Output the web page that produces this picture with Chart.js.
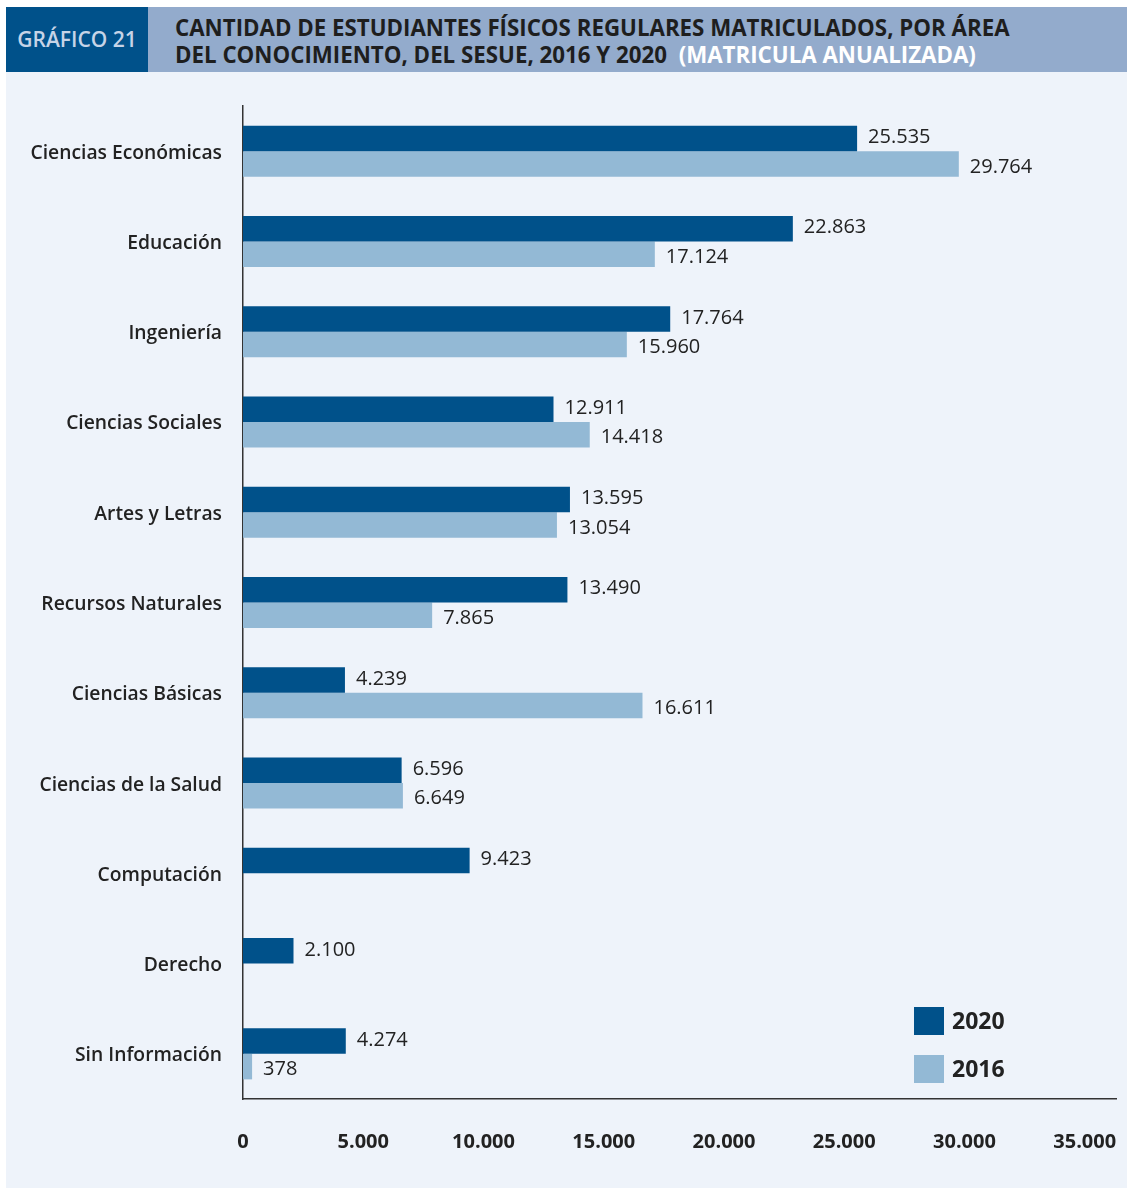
<!DOCTYPE html>
<html>
<head>
<meta charset="utf-8">
<script src="https://cdn.jsdelivr.net/npm/chart.js@4.4.1/dist/chart.umd.min.js"></script>
<style>
  body { margin: 0; background: #fff; font-family: "Open Sans", sans-serif; }
  #panel { position: absolute; left: 6px; top: 72px; width: 1121px; height: 1116px; background: #eef3fa; }
  #tag { position: absolute; left: 6px; top: 7px; width: 142px; height: 65px; background: #00518a;
         color: #c6d4e7; font-weight: 600; font-size: 21px; line-height: 65px; text-align: center; }
  #band { position: absolute; left: 148px; top: 7px; width: 979px; height: 65px; background: #93abcc; }
  #title { position: absolute; left: 27px; top: 6.5px; color: #1e1e1e; font-weight: 700; font-size: 22.3px;
           line-height: 27px; white-space: nowrap; }
  #title span { color: #fff; }
  #c { position: absolute; left: 0; top: 0; }
</style>
</head>
<body>
<div id="panel"></div>
<canvas id="c" width="1127" height="1188"></canvas>
<div id="tag">GRÁFICO 21</div>
<div id="band"><div id="title">CANTIDAD DE ESTUDIANTES FÍSICOS REGULARES MATRICULADOS, POR ÁREA<br>DEL CONOCIMIENTO, DEL SESUE, 2016 Y 2020&nbsp; <span>(MATRICULA ANUALIZADA)</span></div></div>
<script>
(function () {
    'use strict';

    var areas = ['Ciencias Económicas', 'Educación', 'Ingeniería', 'Ciencias Sociales', 'Artes y Letras',
        'Recursos Naturales', 'Ciencias Básicas', 'Ciencias de la Salud', 'Computación', 'Derecho', 'Sin Información'];
    var years = ['2020', '2016'];
    var values2020 = [25535, 22863, 17764, 12911, 13595, 13490, 4239, 6596, 9423, 2100, 4274];
    var values2016 = [29764, 17124, 15960, 14418, 13054, 7865, 16611, 6649, null, null, 378];
    var xTicks = [0, 5000, 10000, 15000, 20000, 25000, 30000, 35000];

    var darkBlue = '#00518a',
        lightBlue = '#93b9d5',
        textColor = '#222';

    function fmt(n) {
        return String(n).replace(/\B(?=(\d{3})+(?!\d))/g, '.');
    }

    // value labels at the end of each bar (2016 ones sit a bit lower, as in the print)
    var barLabels = {
        id: 'barLabels',
        afterDatasetsDraw: function (chart) {
            var ctx = chart.ctx;
            ctx.save();
            ctx.font = '400 20px "Open Sans"';
            ctx.fillStyle = textColor;
            ctx.textAlign = 'left';
            ctx.textBaseline = 'middle';
            chart.data.datasets.forEach(function (ds, i) {
                var dy = i === 0 ? -1 : 3;
                chart.getDatasetMeta(i).data.forEach(function (bar, j) {
                    if (ds.data[j] == null) return;
                    ctx.fillText(fmt(ds.data[j]), bar.x + 11, bar.y + dy);
                });
            });
            ctx.restore();
        }
    };

    // legend box in the lower right of the plot
    var cornerLegend = {
        id: 'cornerLegend',
        afterDraw: function (chart) {
            var ctx = chart.ctx,
                area = chart.chartArea,
                x = area.right - 202,
                y = area.bottom - 92;
            ctx.save();
            ctx.font = '700 23px "Open Sans"';
            ctx.textBaseline = 'middle';
            chart.data.datasets.forEach(function (ds, i) {
                var top = y + i * 48;
                ctx.fillStyle = ds.backgroundColor;
                ctx.fillRect(x, top, 30, 28);
                ctx.fillStyle = textColor;
                ctx.fillText(ds.label, x + 38, top + 15);
            });
            ctx.restore();
        }
    };

    new Chart(document.getElementById('c'), {
        type: 'bar',
        data: {
            labels: areas,
            datasets: [
                { label: years[0], data: values2020, backgroundColor: darkBlue },
                { label: years[1], data: values2016, backgroundColor: lightBlue }
            ]
        },
        plugins: [barLabels, cornerLegend],
        options: {
            indexAxis: 'y',
            responsive: false,
            animation: false,
            layout: { padding: { top: 106, right: 11, left: 0, bottom: 0 } },
            categoryPercentage: 0.565,
            barPercentage: 1,
            plugins: { legend: { display: false }, tooltip: { enabled: false } },
            scales: {
                x: {
                    min: 0,
                    max: 36300,
                    afterBuildTicks: function (scale) {
                        scale.ticks = xTicks.map(function (v) { return { value: v }; });
                    },
                    afterFit: function (scale) {
                        scale.height = 89;
                        scale.paddingLeft = 0;
                        scale.paddingRight = 0;
                    },
                    grid: { display: false, drawTicks: false },
                    border: { display: true, color: '#333', width: 1.5 },
                    ticks: {
                        padding: 31,
                        color: textColor,
                        font: { family: 'Open Sans', size: 20, weight: '700' },
                        callback: function (v) { return fmt(v); }
                    }
                },
                y: {
                    afterFit: function (scale) { scale.width = 243; },
                    grid: { display: false, drawTicks: false },
                    border: { display: true, color: '#333', width: 1.5 },
                    ticks: {
                        padding: 21,
                        labelOffset: 2,
                        color: textColor,
                        font: { family: 'Open Sans', size: 19.3, weight: '600' }
                    }
                }
            }
        }
    });
})();
</script>
</body>
</html>
